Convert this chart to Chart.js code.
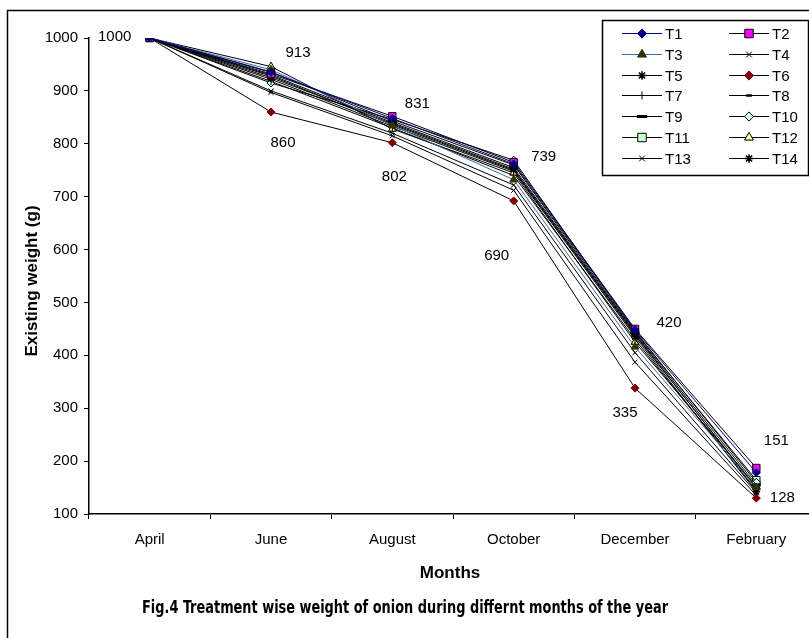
<!DOCTYPE html>
<html>
<head>
<meta charset="utf-8">
<script src="https://cdn.jsdelivr.net/npm/chart.js@4.4.1/dist/chart.umd.min.js"></script>
<style>
  html, body { margin: 0; padding: 0; background: #fff; overflow: hidden; }
  #wrap { width: 830px; height: 638px; }
</style>
</head>
<body>
<div id="wrap"><canvas id="onion-chart" width="830" height="638"></canvas></div>
<script>
// Meses (eixo X)
const months = ['April', 'June', 'August', 'October', 'December', 'February'];

// Peso (g) por tratamento
const t1  = [1000, 935, 848, 762, 448, 178];
const t2  = [1000, 932, 852, 765, 450, 187];
const t3  = [1000, 940, 835, 732, 416, 150];
const t4  = [1000, 900, 820, 722, 405, 140];
const t5  = [1000, 925, 838, 752, 440, 148];
const t6  = [1000, 860, 802, 692, 338, 130];
const t7  = [1000, 918, 830, 740, 430, 145];
const t8  = [1000, 928, 836, 750, 438, 150];
const t9  = [1000, 930, 840, 755, 442, 155];
const t10 = [1000, 915, 846, 769, 446, 160];
const t11 = [1000, 936, 843, 760, 444, 164];
const t12 = [1000, 946, 828, 745, 425, 152];
const t13 = [1000, 897, 815, 712, 387, 135];
const t14 = [1000, 922, 833, 748, 435, 142];

// Ticks do eixo Y
const yTicks = [100, 200, 300, 400, 500, 600, 700, 800, 900, 1000];

// Rótulos de valores escritos no gráfico
const noteTexts  = ['1000', '913', '860', '831', '802', '739', '690', '420', '335', '151', '128'];
const noteMonth  = [0, 1, 1, 2, 2, 3, 3, 4, 4, 5, 5];
const noteLevel  = [1002, 972, 801, 875, 737, 775, 588, 461, 291, 238, 130];

// Posição dos rótulos (deslocamento horizontal em px)
const noteShift  = [-35, 27, 12, 25, 2, 30, -17, 34, -10, 20, 26];

// Estilo de cada série
function serie(label, data, line, style, fill, border, radius, pbw, rot) {
    return {
        label: label,
        data: data,
        borderColor: line,
        borderWidth: 1,
        pointStyle: style,
        pointBackgroundColor: fill,
        pointBorderColor: border,
        pointRadius: radius,
        pointBorderWidth: pbw,
        pointRotation: rot || 0,
        tension: 0,
        fill: false
    };
}

const datasets = [
    serie('T1',  t1,  '#000080', 'rectRot',  '#000080', '#000080', 4, 1),
    serie('T2',  t2,  '#000000', 'rect',     '#ff00ff', '#000000', 5.2, 1),
    serie('T3',  t3,  '#3a6ea5', 'triangle', '#333300', '#333300', 4.5, 1),
    serie('T4',  t4,  '#000000', 'crossRot', '#000000', '#000000', 3.5, 1),
    serie('T5',  t5,  '#000000', 'star',     '#000000', '#000000', 3.8, 1.5),
    serie('T6',  t6,  '#000000', 'rectRot',  '#800000', '#800000', 4, 1),
    serie('T7',  t7,  '#000000', 'line',     '#000000', '#000000', 3.5, 1, 90),
    serie('T8',  t8,  '#000000', 'line',     '#000000', '#000000', 2.5, 2.5),
    serie('T9',  t9,  '#000000', 'line',     '#000000', '#000000', 4.5, 3),
    serie('T10', t10, '#000000', 'rectRot',  '#ccffff', '#000000', 4, 1),
    serie('T11', t11, '#000000', 'rect',     '#ccffcc', '#000000', 5.2, 1),
    serie('T12', t12, '#000000', 'triangle', '#ffff99', '#000000', 4.5, 1),
    serie('T13', t13, '#000000', 'crossRot', '#000000', '#000000', 3.5, 1),
    serie('T14', t14, '#000000', 'star',     '#000000', '#000000', 3.8, 1.5)
];

const fontFam = "'Liberation Sans', Arial, sans-serif";

// Moldura, títulos, legenda e rótulos
const extras = {
    id: 'extras',
    beforeDraw(chart) {
        const ctx = chart.ctx;
        ctx.save();
        ctx.fillStyle = '#fff';
        ctx.fillRect(0, 0, chart.width, chart.height);
        ctx.strokeStyle = '#000';
        ctx.lineWidth = 1.5;
        ctx.beginPath();
        ctx.moveTo(7.5, chart.height);
        ctx.lineTo(7.5, 10.5);
        ctx.lineTo(chart.width, 10.5);
        ctx.stroke();
        ctx.restore();
    },
    afterDatasetsDraw(chart) {
        const ctx = chart.ctx;
        const xs = chart.scales.x, ys = chart.scales.y;
        ctx.save();
        ctx.fillStyle = '#000';
        ctx.textAlign = 'center';
        ctx.textBaseline = 'middle';
        ctx.font = '15px ' + fontFam;
        noteTexts.forEach((t, i) => {
            ctx.fillText(t, xs.getPixelForValue(noteMonth[i]) + noteShift[i], ys.getPixelForValue(noteLevel[i]));
        });
        ctx.restore();
    },
    afterDraw(chart) {
        const ctx = chart.ctx;
        ctx.save();
        ctx.fillStyle = '#000';
        ctx.textAlign = 'center';
        ctx.textBaseline = 'middle';

        // Título do eixo Y
        ctx.font = 'bold 17px ' + fontFam;
        ctx.save();
        ctx.translate(32, 281);
        ctx.rotate(-Math.PI / 2);
        ctx.fillText('Existing weight (g)', 0, 0);
        ctx.restore();

        // Título do eixo X
        ctx.fillText('Months', 450, 573);

        // Legenda da figura
        const cap = 'Fig.4 Treatment wise weight of onion during differnt months of the year';
        ctx.font = "bold 18px 'Liberation Sans Narrow', 'DejaVu Sans Condensed', sans-serif";
        const w = ctx.measureText(cap).width;
        ctx.save();
        ctx.translate(405, 608);
        ctx.scale(526 / w, 1);
        ctx.fillText(cap, 0, 0);
        ctx.restore();

        // Caixa da legenda
        ctx.fillStyle = '#fff';
        ctx.fillRect(602, 20, 206, 155);
        ctx.strokeStyle = '#000';
        ctx.lineWidth = 1.5;
        ctx.strokeRect(602.5, 20.5, 206, 155);

        ctx.font = '15px ' + fontFam;
        ctx.textAlign = 'left';
        chart.data.datasets.forEach((ds, i) => {
            const col = i % 2, row = Math.floor(i / 2);
            const x0 = col === 0 ? 622 : 729;
            const x1 = x0 + 40;
            const y = Math.round(33 + row * 20.8) + 0.5;
            ctx.strokeStyle = ds.borderColor;
            ctx.lineWidth = 1;
            ctx.beginPath();
            ctx.moveTo(x0, y);
            ctx.lineTo(x1, y);
            ctx.stroke();
            ctx.fillStyle = ds.pointBackgroundColor;
            ctx.strokeStyle = ds.pointBorderColor;
            ctx.lineWidth = ds.pointBorderWidth;
            Chart.helpers.drawPoint(ctx, {
                pointStyle: ds.pointStyle,
                rotation: ds.pointRotation,
                radius: ds.pointRadius * 1.15,
                borderWidth: ds.pointBorderWidth
            }, (x0 + x1) / 2, y);
            ctx.fillStyle = '#000';
            ctx.fillText(ds.label, x1 + 3, y + 1);
        });
        ctx.restore();
    }
};

const ctx = document.getElementById('onion-chart').getContext('2d');
const onionChart = new Chart(ctx, {
    type: 'line',
    data: {
        labels: months,
        datasets: datasets
    },
    options: {
        responsive: false,
        animation: false,
        layout: {
            padding: { left: 0, right: 13, top: 38, bottom: 0 }
        },
        plugins: {
            legend: { display: false },
            tooltip: { enabled: false }
        },
        scales: {
            x: {
                type: 'category',
                offset: true,
                afterFit(scale) { scale.height = 124; },
                grid: {
                    offset: true,
                    drawOnChartArea: false,
                    drawTicks: true,
                    tickLength: 5,
                    color: '#000'
                },
                border: { color: '#000', width: 1.5 },
                ticks: {
                    color: '#000',
                    padding: 12,
                    font: { family: fontFam, size: 15 }
                }
            },
            y: {
                min: 100,
                max: 1000,
                afterFit(scale) { scale.width = 89; },
                afterBuildTicks(scale) {
                    scale.ticks = yTicks.map(v => ({ value: v }));
                },
                grid: {
                    drawOnChartArea: false,
                    drawTicks: true,
                    tickLength: 5,
                    color: '#000'
                },
                border: { color: '#000', width: 1.5 },
                ticks: {
                    color: '#000',
                    padding: 6,
                    font: { family: fontFam, size: 15 },
                    callback: value => String(value)
                }
            }
        }
    },
    plugins: [extras]
});
</script>
</body>
</html>
